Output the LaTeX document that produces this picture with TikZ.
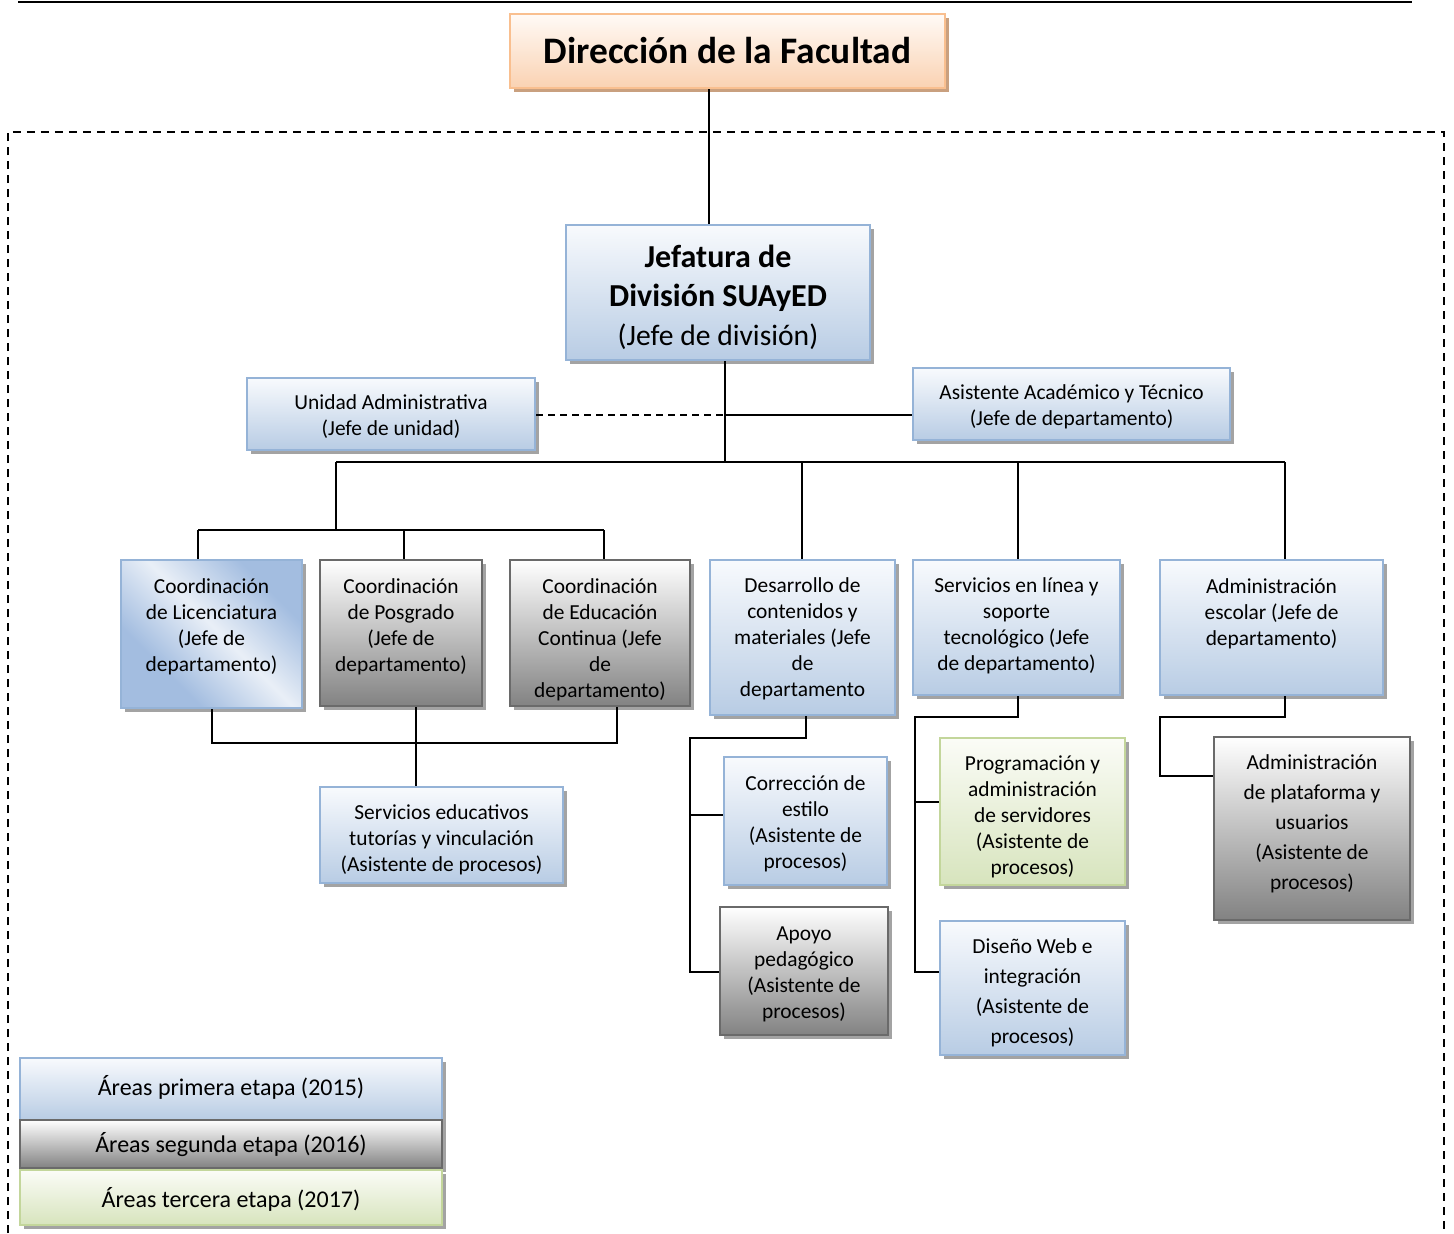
\documentclass[tikz,border=0pt]{standalone}
\usepackage{fontspec}
\setmainfont{Carlito}
\usetikzlibrary{shadows}
\definecolor{bluetop}{HTML}{F8FAFD}
\definecolor{bluebot}{HTML}{B8CCE4}
\definecolor{blueline}{HTML}{95B3D7}
\definecolor{graytop}{HTML}{FFFFFF}
\definecolor{graybot}{HTML}{828282}
\definecolor{grayline}{HTML}{6A6A6A}
\definecolor{greentop}{HTML}{FBFCF7}
\definecolor{greenbot}{HTML}{D7E4BD}
\definecolor{greenline}{HTML}{C3D69B}
\definecolor{orangetop}{HTML}{FFFAF6}
\definecolor{orangebot}{HTML}{FAD2B2}
\definecolor{orangeline}{HTML}{F9BF8F}
\definecolor{shadowgray}{HTML}{A3A3A3}
\definecolor{shadowtan}{HTML}{C9A07F}
\definecolor{licA}{HTML}{A3BDE0}
\definecolor{licB}{HTML}{E9EFF7}
\pgfdeclarehorizontalshading{licshade}{100bp}{color(0bp)=(licA); color(32bp)=(licA); color(52bp)=(licB); color(72bp)=(licA); color(100bp)=(licA)}
\tikzset{
  sz/.style 2 args={minimum width=#1*0.5pt, minimum height=#2*0.5pt},
  boxbase/.style={rectangle, inner sep=0pt, line width=1.1pt},
  shad/.style={drop shadow={shadow xshift=2pt, shadow yshift=-2pt, fill=shadowgray, opacity=1}},
  bluebox/.style={boxbase, shad, draw=blueline, top color=bluetop, bottom color=bluebot},
  graybox/.style={boxbase, shad, draw=grayline, top color=graytop, bottom color=graybot},
  greenbox/.style={boxbase, shad, draw=greenline, top color=greentop, bottom color=greenbot},
  orangebox/.style={boxbase, draw=orangeline, top color=orangetop, bottom color=orangebot,
    drop shadow={shadow xshift=2pt, shadow yshift=-2pt, fill=shadowtan, opacity=1}},
  licbox/.style={boxbase, shad, draw=blueline, shading=licshade, shading angle=45},
  txt/.style={align=center, inner sep=0pt, font=\fontsize{10.7}{13}\selectfont},
  wtxt/.style={align=center, inner sep=0pt, font=\fontsize{10.7}{15}\selectfont},
  legtxt/.style={align=center, inner sep=0pt, font=\fontsize{12}{14}\selectfont},
  conn/.style={draw=black, line width=0.9pt},
  dashconn/.style={draw=black, line width=0.9pt, dash pattern=on 3.5pt off 2.5pt},
  frame/.style={draw=black, line width=0.9pt, dash pattern=on 4pt off 3pt}
}
\begin{document}
\begin{tikzpicture}[x=0.5pt,y=-0.5pt]
\useasboundingbox (0,0) rectangle (1454,1233);
% top rule and dashed frame
\coordinate (rl) at (18,2);
\coordinate (rr) at (1412,2);
\draw[line width=0.8pt] (rl) -- (rr);
\coordinate (f1) at (8,1233);
\coordinate (f2) at (8,132);
\coordinate (f3) at (1444,132);
\coordinate (f4) at (1444,1233);
\draw[frame] (f1) -- (f2) -- (f3) -- (f4);

% boxes
\node[orangebox, sz={435}{74}] (dir) at (727.5,51) {};
\node[bluebox, sz={304}{135}] (jef) at (718,292.5) {};
\node[bluebox, sz={288}{72}] (uni) at (391,414) {};
\node[bluebox, sz={317}{72}] (asi) at (1071.5,404) {};
\node[licbox, sz={181}{148}] (lic) at (211.5,634) {};
\node[graybox, sz={162}{146}] (pos) at (401,633) {};
\node[graybox, sz={180}{146}] (edu) at (600,633) {};
\node[bluebox, sz={185}{155}] (des) at (802.5,637.5) {};
\node[bluebox, sz={207}{135}] (sel) at (1016.5,627.5) {};
\node[bluebox, sz={223}{135}] (ade) at (1271.5,627.5) {};
\node[bluebox, sz={243}{96}] (sed) at (441.5,835) {};
\node[bluebox, sz={163}{128}] (cor) at (805.5,821) {};
\node[graybox, sz={168}{128}] (apo) at (804,971) {};
\node[greenbox, sz={185}{147}] (pro) at (1032.5,811.5) {};
\node[bluebox, sz={185}{134}] (dis) at (1032.5,988) {};
\node[graybox, sz={196}{183}] (apl) at (1312,828.5) {};
\node[bluebox, sz={422}{62}] (lg1) at (231,1089) {};
\node[graybox, sz={422}{48}] (lg2) at (231,1144) {};
\node[greenbox, sz={422}{55}] (lg3) at (231,1197.5) {};

% texts
\node[txt, font=\fontsize{18.7}{22}\selectfont\bfseries] (dirT) at (727.5,51) {Dirección de la Facultad};
\node[txt, font=\fontsize{16}{19.5}\selectfont\bfseries] (jefT) at (718,297) {Jefatura de\\División SUAyED\\{\mdseries\fontsize{14.8}{18.5}\selectfont (Jefe de división)}};
\node[txt] (uniT) at (391,417) {Unidad Administrativa\\(Jefe de unidad)};
\node[txt] (asiT) at (1071.5,407) {Asistente Académico y Técnico\\(Jefe de departamento)};
\node[txt] (licT) at (211.5,627) {Coordinación\\de Licenciatura\\(Jefe de\\departamento)};
\node[txt] (posT) at (401,627) {Coordinación\\de Posgrado\\(Jefe de\\departamento)};
\node[txt] (eduT) at (600,640) {Coordinación\\de Educación\\Continua (Jefe\\de\\departamento)};
\node[txt] (desT) at (802.5,639) {Desarrollo de\\contenidos y\\materiales (Jefe\\de\\departamento};
\node[txt] (selT) at (1016.5,626) {Servicios en línea y\\soporte\\tecnológico (Jefe\\de departamento)};
\node[txt] (adeT) at (1271.5,614) {Administración\\escolar (Jefe de\\departamento)};
\node[txt] (sedT) at (441.5,840) {Servicios educativos\\tutorías y vinculación\\(Asistente de procesos)};
\node[txt] (corT) at (805.5,824) {Corrección de\\estilo\\(Asistente de\\procesos)};
\node[txt] (apoT) at (804,974) {Apoyo\\pedagógico\\(Asistente de\\procesos)};
\node[txt] (proT) at (1032.5,817) {Programación y\\administración\\de servidores\\(Asistente de\\procesos)};
\node[wtxt] (disT) at (1032.5,993) {Diseño Web e\\integración\\(Asistente de\\procesos)};
\node[wtxt] (aplT) at (1312,824) {Administración\\de plataforma y\\usuarios\\(Asistente de\\procesos)};
\node[legtxt] (lg1T) at (231,1087) {Áreas primera etapa (2015)};
\node[legtxt] (lg2T) at (231,1145) {Áreas segunda etapa (2016)};
\node[legtxt] (lg3T) at (231,1199) {Áreas tercera etapa (2017)};

% helper coordinates
\coordinate (x709) at (709,0);
\coordinate (x725) at (725,0);
\coordinate (y415) at (0,415);
\coordinate (bus) at (0,462);
\coordinate (busL) at (336,462);
\coordinate (busR) at (1285,462);
\coordinate (bD) at (802,462);
\coordinate (bS) at (1018,462);
\coordinate (cL) at (198,530);
\coordinate (cM) at (404,530);
\coordinate (cR) at (604,530);
\coordinate (u1) at (212,743);
\coordinate (u2) at (416,743);
\coordinate (u3) at (617,743);
\coordinate (d1) at (806,738);
\coordinate (d2) at (690,738);
\coordinate (y815) at (0,815);
\coordinate (y972) at (0,972);
\coordinate (s1) at (1018,717);
\coordinate (s2) at (915,717);
\coordinate (y802) at (0,802);
\coordinate (a1) at (1285,717);
\coordinate (a2) at (1160,717);
\coordinate (y776) at (0,776);

% connectors
\draw[conn] (dir.south -| x709) -- (jef.north -| x709);
\draw[conn] (jef.south -| x725) -- (x725 |- bus);
\draw[dashconn] (uni.east |- y415) -- (x725 |- y415);
\draw[conn] (x725 |- y415) -- (asi.west |- y415);
\draw[conn] (busL) -- (busR);
\draw[conn] (busL) -- (busL |- cL);
\draw[conn] (cL) -- (cR);
\draw[conn] (cL) -- (lic.north -| cL);
\draw[conn] (cM) -- (pos.north -| cM);
\draw[conn] (cR) -- (edu.north -| cR);
\draw[conn] (bD) -- (des.north -| bD);
\draw[conn] (bS) -- (sel.north -| bS);
\draw[conn] (busR) -- (ade.north -| busR);
\draw[conn] (lic.south -| u1) -- (u1) -- (u3) -- (edu.south -| u3);
\draw[conn] (pos.south -| u2) -- (sed.north -| u2);
\draw[conn] (des.south -| d1) -- (d1) -- (d2) -- (d2 |- y972) -- (apo.west |- y972);
\draw[conn] (d2 |- y815) -- (cor.west |- y815);
\draw[conn] (sel.south -| s1) -- (s1) -- (s2) -- (s2 |- y972) -- (dis.west |- y972);
\draw[conn] (s2 |- y802) -- (pro.west |- y802);
\draw[conn] (ade.south -| a1) -- (a1) -- (a2) -- (a2 |- y776) -- (apl.west |- y776);
\end{tikzpicture}
\end{document}
